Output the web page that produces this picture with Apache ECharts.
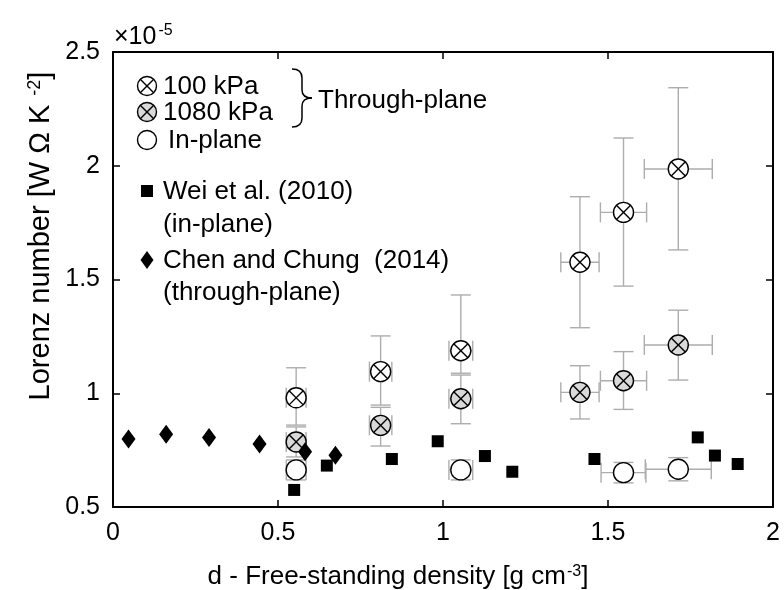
<!DOCTYPE html>
<html>
<head>
<meta charset="utf-8">
<script src="https://cdn.jsdelivr.net/npm/echarts@6/dist/echarts.min.js"></script>
<style>
  html, body { margin: 0; padding: 0; background: #fff; }
  #chart { width: 784px; height: 590px; }
</style>
</head>
<body>
<div id="chart"></div>
<script>
// Free-standing density [g cm^-3] and Lorenz number [x1e-5 W Ohm K^-2]

// Through-plane, 100 kPa
const density100 = [0.555, 0.811, 1.054, 1.415, 1.547, 1.713];
const densityErr100 = [0.03, 0.034, 0.036, 0.058, 0.07, 0.103];
const lorenz100 = [0.98, 1.095, 1.187, 1.576, 1.795, 1.986];
const lorenz100Low = [0.86, 0.948, 1.088, 1.288, 1.471, 1.63];
const lorenz100High = [1.112, 1.252, 1.432, 1.864, 2.122, 2.343];

// Through-plane, 1080 kPa
const density1080 = [0.555, 0.811, 1.054, 1.415, 1.547, 1.713];
const densityErr1080 = [0.03, 0.034, 0.036, 0.058, 0.07, 0.103];
const lorenz1080 = [0.786, 0.859, 0.976, 1.004, 1.055, 1.212];
const lorenz1080Low = [0.72, 0.768, 0.866, 0.887, 0.929, 1.058];
const lorenz1080High = [0.852, 0.938, 1.08, 1.121, 1.183, 1.365];

// In-plane
const densityIn = [0.555, 1.054, 1.547, 1.713];
const densityErrIn = [0.03, 0.036, 0.068, 0.1];
const lorenzIn = [0.663, 0.663, 0.651, 0.666];
const lorenzInLow = [0.619, 0.619, 0.606, 0.615];
const lorenzInHigh = [0.707, 0.707, 0.696, 0.717];

// Wei et al. (2010), in-plane
const densityWei = [0.549, 0.648, 0.845, 0.984, 1.127, 1.21, 1.459, 1.772, 1.824, 1.893];
const lorenzWei = [0.575, 0.682, 0.711, 0.789, 0.724, 0.655, 0.711, 0.806, 0.726, 0.689];

// Chen and Chung (2014), through-plane
const densityChen = [0.047, 0.161, 0.291, 0.444, 0.582, 0.674];
const lorenzChen = [0.799, 0.82, 0.806, 0.777, 0.743, 0.727];

// Axis ticks
const xTicks = [0, 0.5, 1, 1.5, 2];
const yTicks = [0.5, 1, 1.5, 2, 2.5];

const FONT = 'Liberation Sans, Arial, Helvetica, sans-serif';
const ERR_COLOR = '#adadad';
const GRAY_FILL = '#d9d9d9';
const LEGEND_FONT = 26;

function zip(xs, ys) { return xs.map((x, i) => [x, ys[i]]); }

function errorRows(xs, xErr, ys, yLow, yHigh) {
  return xs.map((x, i) => [x, ys[i], x - xErr[i], x + xErr[i], yLow[i], yHigh[i]]);
}

function renderErrorBars(params, api) {
  const x = api.value(0), y = api.value(1);
  const c = api.coord([x, y]);
  const left = api.coord([api.value(2), y]);
  const right = api.coord([api.value(3), y]);
  const low = api.coord([x, api.value(4)]);
  const high = api.coord([x, api.value(5)]);
  const cap = 10;
  const st = { stroke: ERR_COLOR, lineWidth: 1.4, fill: null };
  const seg = (x1, y1, x2, y2) => ({ type: 'line', shape: { x1, y1, x2, y2 }, style: st });
  return {
    type: 'group',
    children: [
      seg(c[0], high[1], c[0], low[1]),
      seg(c[0] - cap, high[1], c[0] + cap, high[1]),
      seg(c[0] - cap, low[1], c[0] + cap, low[1]),
      seg(left[0], c[1], right[0], c[1]),
      seg(left[0], c[1] - cap, left[0], c[1] + cap),
      seg(right[0], c[1] - cap, right[0], c[1] + cap)
    ]
  };
}

function crossedCircle(cx, cy, r, fill) {
  const d = r * Math.SQRT1_2;
  const st = { stroke: '#000', lineWidth: 1.4 };
  return [
    { type: 'circle', shape: { cx, cy, r }, style: { fill, stroke: '#000', lineWidth: 1.4 } },
    { type: 'line', shape: { x1: cx - d, y1: cy - d, x2: cx + d, y2: cy + d }, style: st },
    { type: 'line', shape: { x1: cx + d, y1: cy - d, x2: cx - d, y2: cy + d }, style: st }
  ];
}

function crossedRenderer(fill) {
  return function (params, api) {
    const c = api.coord([api.value(0), api.value(1)]);
    return { type: 'group', children: crossedCircle(c[0], c[1], 10, fill) };
  };
}

// Right-facing curly brace built from quadratic curves and straight pieces
function brace(x0, top, bottom, depth) {
  const mid = (top + bottom) / 2;
  const xm = x0 + depth / 2;
  const st = { stroke: '#000', lineWidth: 1.5, fill: null };
  const q = (x1, y1, cx, cy, x2, y2) => ({ type: 'bezierCurve', shape: { x1, y1, cpx1: cx, cpy1: cy, x2, y2 }, style: st });
  const l = (x1, y1, x2, y2) => ({ type: 'line', shape: { x1, y1, x2, y2 }, style: st });
  return [
    q(x0, top, xm, top, xm, top + 9),
    l(xm, top + 9, xm, mid - 8),
    q(xm, mid - 8, xm, mid, x0 + depth, mid),
    q(x0 + depth, mid, xm, mid, xm, mid + 8),
    l(xm, mid + 8, xm, bottom - 9),
    q(xm, bottom - 9, xm, bottom, x0, bottom)
  ];
}

const chart = echarts.init(document.getElementById('chart'), null, { renderer: 'canvas' });

const axisCommon = {
  axisLine: { show: true, onZero: false, lineStyle: { color: '#000', width: 2 } },
  axisTick: { show: true, inside: true, length: 7, lineStyle: { color: '#000', width: 1.5 } },
  splitLine: { show: false }
};

const sup = (size, lift) => ({ fontSize: size, fontFamily: FONT, fill: '#000', verticalAlign: 'top', padding: [0, 0, lift, 1] });

// Legend layout (pixel positions of the legend block)
const legendX = 147, textX = 163;
const legendText = (x, y, text) => ({
  type: 'text', x, y,
  style: { text, font: LEGEND_FONT + 'px ' + FONT, fill: '#000', textVerticalAlign: 'middle' }
});

const option = {
  animation: false,
  backgroundColor: '#fff',
  grid: { left: 113, right: 11, top: 52, bottom: 83, containLabel: false },
  xAxis: [
    Object.assign({
      type: 'value', min: 0, max: 2, interval: 0.5, position: 'bottom',
      axisLabel: {
        color: '#000', fontSize: 25, fontFamily: FONT, margin: 14,
        formatter: v => xTicks.includes(v) ? String(v) : ''
      }
    }, axisCommon),
    Object.assign({
      type: 'value', min: 0, max: 2, interval: 0.5, position: 'top',
      axisLabel: { show: false }
    }, axisCommon)
  ],
  yAxis: [
    Object.assign({
      type: 'value', min: 0.5, max: 2.5, interval: 0.5, position: 'left',
      axisLabel: {
        color: '#000', fontSize: 25, fontFamily: FONT, margin: 13,
        formatter: v => yTicks.includes(v) ? String(v) : ''
      }
    }, axisCommon),
    Object.assign({
      type: 'value', min: 0.5, max: 2.5, interval: 0.5, position: 'right',
      axisLabel: { show: false }
    }, axisCommon)
  ],
  series: [
    {
      name: 'err100', type: 'custom', renderItem: renderErrorBars, z: 1,
      data: errorRows(density100, densityErr100, lorenz100, lorenz100Low, lorenz100High)
    },
    {
      name: 'err1080', type: 'custom', renderItem: renderErrorBars, z: 1,
      data: errorRows(density1080, densityErr1080, lorenz1080, lorenz1080Low, lorenz1080High)
    },
    {
      name: 'errIn', type: 'custom', renderItem: renderErrorBars, z: 1,
      data: errorRows(densityIn, densityErrIn, lorenzIn, lorenzInLow, lorenzInHigh)
    },
    {
      name: 'Wei et al. (2010)', type: 'scatter', z: 3,
      symbol: 'rect', symbolSize: 12,
      itemStyle: { color: '#000', opacity: 1 },
      data: zip(densityWei, lorenzWei)
    },
    {
      name: '100 kPa', type: 'custom', z: 4, renderItem: crossedRenderer('#fff'),
      data: zip(density100, lorenz100)
    },
    {
      name: '1080 kPa', type: 'custom', z: 4, renderItem: crossedRenderer(GRAY_FILL),
      data: zip(density1080, lorenz1080)
    },
    {
      name: 'In-plane', type: 'scatter', z: 4,
      symbol: 'circle', symbolSize: 20,
      itemStyle: { color: '#fff', borderColor: '#000', borderWidth: 1.4, opacity: 1 },
      data: zip(densityIn, lorenzIn)
    },
    {
      name: 'Chen and Chung (2014)', type: 'scatter', z: 5,
      symbol: 'diamond', symbolSize: [14, 19],
      itemStyle: { color: '#000', opacity: 1 },
      data: zip(densityChen, lorenzChen)
    }
  ],
  graphic: [
    // axis titles
    {
      type: 'text', x: 398, y: 577,
      style: {
        text: 'd - Free-standing density [g cm{s|-3}]',
        fontSize: 26, fontFamily: FONT, fill: '#000',
        textAlign: 'center', textVerticalAlign: 'middle',
        rich: { s: sup(16, 10) }
      }
    },
    {
      type: 'text', x: 55, y: 236, rotation: Math.PI / 2,
      style: {
        text: 'Lorenz number [W Ω K {s|-2}]',
        fontSize: 29, fontFamily: FONT, fill: '#000',
        textAlign: 'center', textVerticalAlign: 'bottom',
        rich: { s: sup(18, 11) }
      }
    },
    // exponent of the y axis
    {
      type: 'text', x: 114, y: 23,
      style: {
        text: '{n|×10}{s|-5}',
        rich: {
          n: { fontSize: 25, fontFamily: FONT, fill: '#000' },
          s: { fontSize: 16, fontFamily: FONT, fill: '#000', verticalAlign: 'top', padding: [0, 0, 12, 2] }
        }
      }
    },
    // legend symbols
    { type: 'group', children: crossedCircle(legendX, 86, 9.5, '#fff') },
    { type: 'group', children: crossedCircle(legendX, 112, 9.5, GRAY_FILL) },
    { type: 'circle', shape: { cx: legendX, cy: 140, r: 9.5 }, style: { fill: '#fff', stroke: '#000', lineWidth: 1.4 } },
    { type: 'rect', shape: { x: legendX - 6, y: 185, width: 12, height: 12 }, style: { fill: '#000' } },
    { type: 'polygon', shape: { points: [[legendX, 251], [legendX + 6.5, 260], [legendX, 269], [legendX - 6.5, 260]] }, style: { fill: '#000' } },
    // legend labels
    legendText(textX, 87, '100 kPa'),
    legendText(textX, 113, '1080 kPa'),
    legendText(textX + 5, 141, 'In-plane'),
    legendText(textX, 192, 'Wei et al. (2010)'),
    legendText(textX, 225, '(in-plane)'),
    legendText(textX, 261, 'Chen and Chung  (2014)'),
    legendText(textX, 293, '(through-plane)'),
    // brace grouping the two through-plane pressures
    { type: 'group', children: brace(292, 69, 127, 20) },
    legendText(318, 101, 'Through-plane')
  ]
};

chart.setOption(option);
</script>
</body>
</html>
